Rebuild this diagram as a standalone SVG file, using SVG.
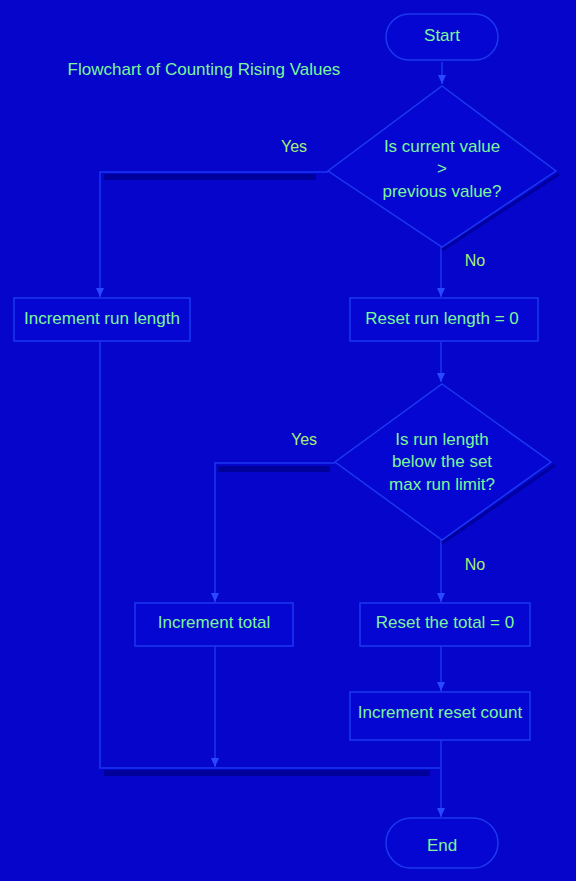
<svg xmlns="http://www.w3.org/2000/svg" width="576" height="881" viewBox="0 0 576 881">
<defs>
<style>
.bg{fill:#0505cc}
.node{fill:#0606d2;stroke:#1c38f0;stroke-width:1.5}
.shadow{fill:none;stroke:#0000a0;stroke-width:3}
.t{font-family:"Liberation Sans",Arial,sans-serif;font-size:17px;fill:#7cf59a;text-anchor:middle;dominant-baseline:middle}
.lbl{font-family:"Liberation Sans",Arial,sans-serif;font-size:16px;fill:#a8f070;text-anchor:middle;dominant-baseline:middle}
.c{fill:none;stroke:#1a36f2;stroke-width:1.5}
.cs{fill:none;stroke:#00009a;stroke-width:6}
</style>
<marker id="ah" markerWidth="10" markerHeight="10" refX="9" refY="5" orient="auto" markerUnits="userSpaceOnUse">
<path d="M0,1 L9,5 L0,9 Z" fill="#2a48ff"/>
</marker>
</defs>
<rect class="bg" x="0" y="0" width="576" height="881"/>
<text class="t" x="204" y="71" id="title">Flowchart of Counting Rising Values</text>
<g id="connectors">
<path class="cs" d="M104,177 H316"/>
<path class="cs" d="M218,469 H330"/>
<path class="cs" d="M104,773 H430"/>
<path class="c" d="M442,62 V84" marker-end="url(#ah)"/>
<path class="c" d="M328,172 H100 V297" marker-end="url(#ah)"/>
<path class="c" d="M441,247 V297" marker-end="url(#ah)"/>
<path class="c" d="M441,342 V382" marker-end="url(#ah)"/>
<path class="c" d="M335,463 H215 V602" marker-end="url(#ah)"/>
<path class="c" d="M441,540 V602" marker-end="url(#ah)"/>
<path class="c" d="M441,646 V691" marker-end="url(#ah)"/>
<path class="c" d="M100,341 V768 H440"/>
<path class="c" d="M215,646 V767" marker-end="url(#ah)"/>
<path class="c" d="M441,740 V817" marker-end="url(#ah)"/>
<text class="lbl" x="294" y="148">Yes</text>
<text class="lbl" x="475" y="262">No</text>
<text class="lbl" x="304" y="441">Yes</text>
<text class="lbl" x="475" y="566">No</text>
</g>
<g id="start">
<rect class="node" x="386" y="14" width="112" height="46" rx="23"/>
<text class="t" x="442" y="37">Start</text>
</g>
<g id="decision1">
<path class="shadow" d="M559,174 L442,250"/>
<path class="node" d="M442,86 L556,171 L442,247 L328,171 Z"/>
<text class="t" x="442" y="148">Is current value</text>
<text class="t" x="442" y="170">&gt;</text>
<text class="t" x="442" y="193">previous value?</text>
</g>
<g id="incRun">
<rect class="node" x="14" y="298" width="176" height="43"/>
<text class="t" x="102" y="320">Increment run length</text>
</g>
<g id="resetRun">
<rect class="node" x="350" y="298" width="188" height="43"/>
<text class="t" x="442" y="320">Reset run length = 0</text>
</g>
<g id="decision2">
<path class="shadow" d="M555,465 L442,543"/>
<path class="node" d="M442,384 L551,462 L442,540 L335,462 Z"/>
<text class="t" x="442" y="441">Is run length</text>
<text class="t" x="442" y="463">below the set</text>
<text class="t" x="442" y="486">max run limit?</text>
</g>
<g id="incTotal">
<rect class="node" x="135" y="603" width="158" height="43"/>
<text class="t" x="214" y="624">Increment total</text>
</g>
<g id="resetTotal">
<rect class="node" x="360" y="603" width="170" height="43"/>
<text class="t" x="445" y="624">Reset the total = 0</text>
</g>
<g id="incResets">
<rect class="node" x="350" y="692" width="180" height="48"/>
<text class="t" x="440" y="714">Increment reset count</text>
</g>
<g id="end">
<rect class="node" x="386" y="818" width="112" height="50" rx="25"/>
<text class="t" x="442" y="847">End</text>
</g>
</svg>
